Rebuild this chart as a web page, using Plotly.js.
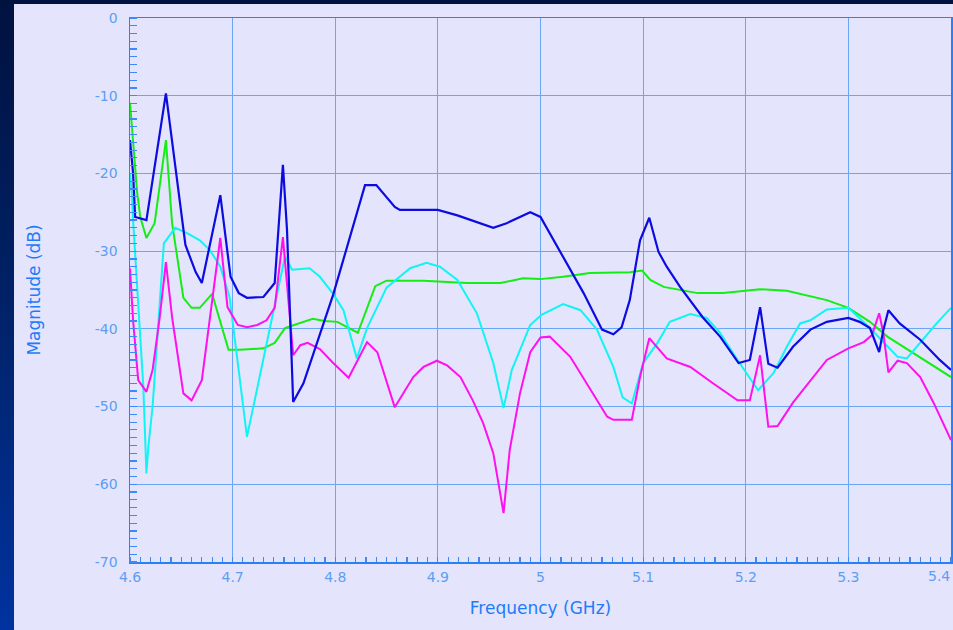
<!DOCTYPE html>
<html>
<head>
<meta charset="utf-8">
<script src="https://cdn.plot.ly/plotly-3.0.1.min.js"></script>
<style>
  html, body { margin:0; padding:0; width:953px; height:630px; overflow:hidden;
    background: linear-gradient(180deg, #00123f 0%, #00246e 55%, #0033a0 100%); }
  #panel { position:absolute; left:14px; top:4px; width:939px; height:626px; background:#e4e4fc; overflow:hidden; }
  #chart { width:939px; height:626px; }
</style>
</head>
<body>
<div id="panel"><div id="chart"></div></div>
<script>
// ---- data ----
const blueX = [4.600,4.603,4.605,4.616,4.635,4.654,4.664,4.670,4.688,4.698,4.706,4.714,4.730,4.741,4.749,4.753,4.759,4.769,4.798,4.829,4.840,4.858,4.863,4.900,4.919,4.954,4.967,4.990,5.000,5.022,5.042,5.060,5.071,5.079,5.087,5.097,5.106,5.115,5.123,5.136,5.158,5.175,5.193,5.204,5.214,5.222,5.231,5.246,5.263,5.279,5.300,5.311,5.321,5.330,5.334,5.339,5.350,5.370,5.389,5.400];
const blueY = [-15.7,-20,-25.6,-26,-9.7,-29.2,-32.7,-34.1,-22.8,-33.3,-35.4,-36,-35.9,-34.1,-18.9,-27.3,-49.4,-47,-35.6,-21.5,-21.5,-24.3,-24.7,-24.7,-25.4,-27.0,-26.4,-25.0,-25.6,-30.7,-35.4,-40.1,-40.7,-39.8,-36.3,-28.6,-25.7,-30.1,-32.0,-34.6,-38.5,-41.0,-44.4,-44.0,-37.2,-44.5,-45.0,-42.3,-40.1,-39.1,-38.6,-39.1,-39.9,-43.0,-40.2,-37.6,-39.3,-41.4,-44.0,-45.3];

const greenX = [4.600,4.603,4.607,4.610,4.616,4.624,4.635,4.641,4.652,4.660,4.668,4.680,4.696,4.707,4.730,4.741,4.751,4.778,4.790,4.802,4.822,4.839,4.850,4.886,4.928,4.961,4.983,5.000,5.022,5.048,5.087,5.099,5.107,5.120,5.153,5.178,5.214,5.240,5.279,5.300,5.321,5.338,5.367,5.400];
const greenY = [-10.9,-15.7,-22.5,-25.6,-28.3,-26.4,-15.7,-26.4,-36.0,-37.3,-37.3,-35.5,-42.7,-42.7,-42.5,-41.8,-39.9,-38.7,-39.0,-39.1,-40.5,-34.5,-33.8,-33.8,-34.1,-34.1,-33.5,-33.6,-33.3,-32.8,-32.7,-32.5,-33.7,-34.6,-35.4,-35.4,-34.9,-35.1,-36.3,-37.3,-39.1,-41.0,-43.4,-46.2];

const cyanX = [4.600,4.602,4.603,4.613,4.616,4.618,4.622,4.633,4.644,4.656,4.668,4.678,4.688,4.697,4.714,4.751,4.758,4.775,4.785,4.798,4.808,4.821,4.831,4.850,4.873,4.889,4.902,4.919,4.938,4.954,4.964,4.972,4.990,5.001,5.022,5.039,5.055,5.071,5.080,5.089,5.100,5.114,5.126,5.146,5.162,5.175,5.192,5.212,5.227,5.240,5.253,5.263,5.279,5.300,5.321,5.334,5.348,5.357,5.370,5.386,5.400];
const cyanY = [-20,-23,-26,-47.5,-58.6,-55,-50,-29,-27.0,-27.7,-28.6,-29.9,-32.0,-35.9,-53.9,-30.7,-32.4,-32.2,-33.3,-35.5,-37.6,-43.8,-39.9,-34.7,-32.2,-31.5,-32.0,-33.7,-38.0,-44.4,-50.2,-45.3,-39.5,-38.2,-36.8,-37.6,-40.1,-44.9,-48.8,-49.6,-44.4,-41.8,-39.1,-38.1,-38.6,-40.5,-44.0,-47.9,-45.7,-42.3,-39.3,-38.9,-37.5,-37.3,-39.9,-41.7,-43.6,-43.8,-41.8,-39.3,-37.3];

const magentaX = [4.600,4.603,4.608,4.616,4.622,4.629,4.635,4.641,4.652,4.660,4.670,4.680,4.688,4.695,4.705,4.714,4.724,4.733,4.741,4.749,4.754,4.759,4.766,4.773,4.785,4.798,4.813,4.831,4.841,4.858,4.876,4.886,4.899,4.909,4.922,4.934,4.944,4.954,4.964,4.970,4.980,4.990,5.000,5.009,5.029,5.055,5.065,5.071,5.089,5.097,5.106,5.123,5.146,5.168,5.192,5.204,5.214,5.222,5.231,5.246,5.263,5.279,5.300,5.315,5.323,5.330,5.334,5.339,5.348,5.357,5.370,5.383,5.400];
const magentaY = [-32.2,-38.9,-46.6,-48.1,-45.3,-38.5,-31.4,-38.5,-48.3,-49.2,-46.6,-36.7,-28.3,-37.2,-39.5,-39.8,-39.5,-38.9,-37.3,-28.2,-36.3,-43.4,-42.1,-41.8,-42.6,-44.4,-46.3,-41.7,-43.0,-50.1,-46.2,-44.9,-44.1,-44.7,-46.2,-49.2,-52.1,-56.0,-63.7,-55.6,-48.3,-43.0,-41.1,-41.0,-43.6,-49.2,-51.3,-51.7,-51.7,-46.2,-41.2,-43.8,-44.9,-47.0,-49.2,-49.2,-43.4,-52.6,-52.5,-49.5,-46.6,-44.0,-42.5,-41.7,-40.8,-38.0,-40.5,-45.6,-44.1,-44.4,-46.2,-49.5,-54.3];

const xTickVals = [4.6,4.7,4.8,4.9,5.0,5.1,5.2,5.3,5.4];
const xTickText = ["4.6","4.7","4.8","4.9","5","5.1","5.2","5.3","5.4"];
const yTickVals = [0,-10,-20,-30,-40,-50,-60,-70];
const yTickText = ["0","-10","-20","-30","-40","-50","-60","-70"];

function line(x, y, color, w) {
  return { x: x, y: y, type: 'scatter', mode: 'lines', line: { color: color, width: w }, hoverinfo: 'skip', showlegend: false };
}
const traces = [
  line(greenX, greenY, '#14ee14', 2),
  line(cyanX, cyanY, '#10f4f4', 2),
  line(magentaX, magentaY, '#ff10ee', 2),
  line(blueX, blueY, '#0c0ce0', 2.2)
];

const tickFont = { family: 'DejaVu Sans, sans-serif', size: 14, color: '#5d9ef2' };
const titleFont = { family: 'DejaVu Sans, sans-serif', size: 17, color: '#1f7cf8' };

// the last x label sits at the right edge: draw it right-aligned at its tick
const nLast = xTickVals.length - 1;
const axisTickText = xTickText.map((t, i) => i === nLast ? '' : t);

const layout = {
  width: 939, height: 626,
  paper_bgcolor: 'rgba(0,0,0,0)', plot_bgcolor: '#e4e4fc',
  margin: { l: 116, r: 2, t: 14, b: 68 },
  xaxis: {
    range: [4.6, 5.4], tickvals: xTickVals, ticktext: axisTickText,
    showgrid: true, gridcolor: '#6aa6f6', gridwidth: 1,
    showline: true, linecolor: '#2a80f8', linewidth: 1.5, mirror: true,
    ticks: '', tickfont: tickFont, zeroline: false, ticklabelstandoff: 2,
    minor: { dtick: 0.01, ticks: 'inside', ticklen: 5, tickcolor: '#3d8af6', tickwidth: 1.2, showgrid: false },
    title: { text: 'Frequency (GHz)', font: titleFont, standoff: 18 }
  },
  yaxis: {
    range: [-70, 0], tickvals: yTickVals, ticktext: yTickText,
    showgrid: true, gridcolor: '#6aa6f6', gridwidth: 1,
    showline: true, linecolor: '#2a80f8', linewidth: 1.5, mirror: true,
    ticks: '', tickfont: tickFont, zeroline: false, ticklabelstandoff: 8,
    minor: { dtick: 1, ticks: 'inside', ticklen: 7, tickcolor: '#3d8af6', tickwidth: 1.2, showgrid: false },
    title: { text: 'Magnitude (dB)', font: titleFont, standoff: 50 }
  },
  annotations: [{
    x: xTickVals[nLast], xref: 'x', y: 0, yref: 'paper',
    text: xTickText[nLast], showarrow: false, font: tickFont,
    xanchor: 'right', yanchor: 'top', xshift: 1, yshift: -4
  }]
};

Plotly.newPlot('chart', traces, layout, { displayModeBar: false, staticPlot: true });
</script>
</body>
</html>
